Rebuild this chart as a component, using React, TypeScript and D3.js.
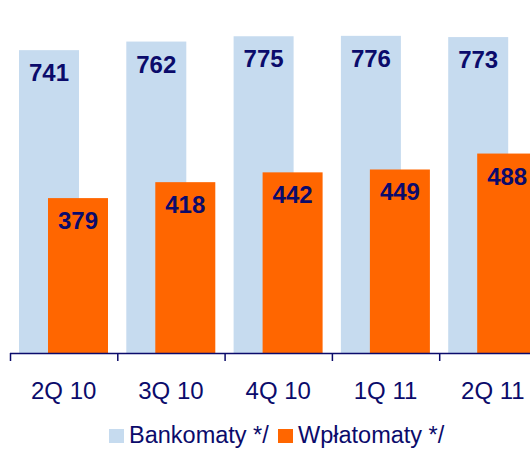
import React from "react";
import * as d3 from "d3";

const categories = ["2Q 10", "3Q 10", "4Q 10", "1Q 11", "2Q 11"];
const bankomaty = [741, 762, 775, 776, 773];
const wplatomaty = [379, 418, 442, 449, 488];
const seriesNames = ["Bankomaty */", "Wpłatomaty */"];

const W = 530;
const H = 449;
const baseY = 353;
const navy = "#0B0B6B";
const blue = "#C6DBEF";
const orange = "#FF6600";
const font = "Liberation Sans, Arial, sans-serif";

export default function App() {
  const x = d3.scaleBand<string>().domain(categories).range([10, 546.5]).padding(0);
  const y = d3.scaleLinear().domain([0, 800]).range([baseY, baseY - 800 * 0.4087]);
  const bw = x.bandwidth();
  const barW = 60;
  const blueOff = 9;
  const orangeOff = 38;

  return (
    <svg width={W} height={H} style={{ position: "fixed", left: 0, top: 0 }} fontFamily={font}>
      <rect width={W} height={H} fill="#fff" />
      {categories.map((c, i) => {
        const x0 = x(c)!;
        const yb = y(bankomaty[i]);
        const yw = y(wplatomaty[i]);
        return (
          <g key={c}>
            <rect x={x0 + blueOff} y={yb} width={barW} height={baseY - yb} fill={blue} />
            <rect x={x0 + orangeOff} y={yw} width={barW} height={baseY - yw} fill={orange} />
            <text x={x0 + blueOff + barW / 2} y={yb + 31} textAnchor="middle" fontSize={24} fontWeight="bold" fill={navy}>
              {bankomaty[i]}
            </text>
            <text x={x0 + orangeOff + barW / 2} y={yw + 31} textAnchor="middle" fontSize={24} fontWeight="bold" fill={navy}>
              {wplatomaty[i]}
            </text>
            <text x={x0 + bw / 2} y={399} textAnchor="middle" fontSize={24} fill={navy}>
              {c}
            </text>
          </g>
        );
      })}
      <line x1={10} x2={W} y1={baseY + 0.5} y2={baseY + 0.5} stroke={navy} strokeWidth={1.5} />
      {categories.map((c) => (
        <line key={"t" + c} x1={x(c)! + 0.5} x2={x(c)! + 0.5} y1={baseY} y2={361} stroke={navy} strokeWidth={1.5} />
      ))}
      <g>
        <rect x={109} y={429} width={15} height={14} fill={blue} />
        <text x={129} y={443} fontSize={23.5} fill={navy}>{seriesNames[0]}</text>
        <rect x={278} y={429} width={15} height={14} fill={orange} />
        <text x={298} y={443} fontSize={23.5} fill={navy}>{seriesNames[1]}</text>
      </g>
    </svg>
  );
}
